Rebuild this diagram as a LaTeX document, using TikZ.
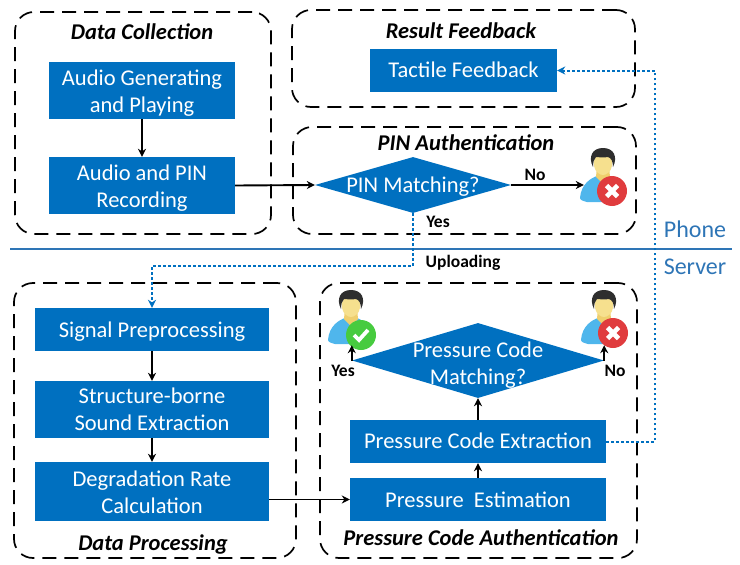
\documentclass[tikz,border=0pt]{standalone}
\usepackage{fontspec}
\setmainfont{Carlito}
\usetikzlibrary{shapes.geometric,arrows.meta,calc}
\definecolor{boxblue}{HTML}{0070C0}
\definecolor{rulecol}{HTML}{2E75B6}
\definecolor{skinA}{HTML}{F6E08E}
\definecolor{skinB}{HTML}{EFCF6E}
\definecolor{shirt}{HTML}{4FB6EC}
\definecolor{badred}{HTML}{E03C3E}
\definecolor{badgreen}{HTML}{47CB3F}
\newcommand{\lowertext}[1]{\rule{0pt}{#1}}
\tikzset{
  x=1pt,y=-1pt,
  group/.style={draw=black,line width=1.7pt,dash pattern=on 14pt off 8pt,rounded corners=19pt},
  title/.style={font=\fontsize{22.5}{26}\selectfont\bfseries\itshape,text=black,inner sep=0pt},
  proc/.style={fill=boxblue,text=white,inner sep=0pt,align=center,font=\fontsize{22.5}{27}\selectfont},
  textdown/.style={execute at begin node={\rule{0pt}{#1}}},
  textup/.style={execute at begin node={\rule[-#1]{0pt}{#1}}},
  dec/.style={diamond,fill=boxblue,inner sep=0pt,aspect=1},
  dectext/.style={text=white,align=center,inner sep=0pt,font=\fontsize{22.5}{27}\selectfont},
  flow/.style={draw=black,line width=1.9pt,-{Stealth[length=8pt,width=8pt]}},
  link/.style={draw=boxblue,line width=2pt,dash pattern=on 2.6pt off 2.4pt,-{Stealth[length=8pt,width=8pt]}},
  tag/.style={font=\fontsize{17.5}{20}\selectfont\bfseries,text=black,inner sep=0pt},
  side/.style={font=\fontsize{24}{28}\selectfont,text=rulecol,inner sep=0pt},
  anchorbox/.style={inner sep=0pt,minimum width=44pt,minimum height=50pt},
  pics/person/.style={code={
    \fill[shirt] (-23,38) .. controls (-22,24) and (-12,18) .. (-6,16) -- (6,16) .. controls (12,18) and (20,24) .. (21,38) -- (12,42) -- (-16,42) .. controls (-20,41) and (-23,40) .. (-23,38) -- cycle;
    \fill[skinB] (-6,6) -- (6,6) -- (7,17) -- (0,24) -- (-7,17) -- cycle;
    \fill[skinA] (0,-6) .. controls (9,-6) and (10,2) .. (9,6) .. controls (8,12) and (3,15) .. (0,15) .. controls (-3,15) and (-8,12) .. (-9,6) .. controls (-10,2) and (-9,-6) .. (0,-6) -- cycle;
    \fill[black!82] (-10,7) .. controls (-15,-3) and (-11,-12) .. (0,-12) .. controls (11,-12) and (15,-3) .. (10,7) .. controls (10,1) and (8,-2) .. (5,-3) .. controls (0,-2) and (-5,-3) .. (-7,-3) .. controls (-9,-1) and (-10,2) .. (-10,7) -- cycle;
    #1
  }},
}
\newcommand{\badgecross}{%
  \fill[badred] (9,31) circle (15);
  \draw[white,line width=4.6pt] (3.5,25.5) -- (14.5,36.5) (14.5,25.5) -- (3.5,36.5);}
\newcommand{\badgecheck}{%
  \fill[badgreen] (10,33) circle (15);
  \draw[white,line width=3.8pt] (3,33) -- (8,38) -- (17,28);}
\begin{document}
\begin{tikzpicture}
\useasboundingbox (0,0) rectangle (740,565);
% groups
\node[group,minimum width=256pt,minimum height=222pt] (gdc) at (143,123) {};
\node[group,minimum width=343pt,minimum height=97pt] (grf) at (463.5,58.5) {};
\node[group,minimum width=343pt,minimum height=107pt] (gpa) at (464.5,180.5) {};
\node[group,minimum width=282pt,minimum height=275pt] (gdp) at (155,420.5) {};
\node[group,minimum width=317pt,minimum height=275pt] (gpc) at (478.5,420.5) {};
% titles
\node[title] (tdc) at (142,32) {Data Collection};
\node[title] (trf) at (461,31) {Result Feedback};
\node[title] (tpa) at (466,143) {PIN Authentication};
\node[title] (tdp) at (153,544) {Data Processing};
\node[title] (tpc) at (481,538) {Pressure Code Authentication};
% process boxes
\node[proc,minimum width=186pt,minimum height=57pt] (ag) at (142,90.5) {\lowertext{20pt}Audio Generating\\and Playing};
\node[proc,minimum width=186pt,minimum height=57pt] (ar) at (142,185.5) {\lowertext{20pt}Audio and PIN\\Recording};
\node[proc,textup=2pt,minimum width=187pt,minimum height=43pt] (tf) at (463.5,70.5) {Tactile Feedback};
\node[proc,textdown=20pt,minimum width=234pt,minimum height=43pt] (sp) at (152,329.5) {Signal Preprocessing};
\node[proc,minimum width=234pt,minimum height=57pt] (se) at (152,409.5) {Structure-borne\\Sound Extraction};
\node[proc,minimum width=234pt,minimum height=59pt] (dr) at (152,491.5) {\lowertext{18pt}Degradation Rate\\Calculation};
\node[proc,textup=2pt,minimum width=256pt,minimum height=43pt] (pe) at (478,441.5) {Pressure Code Extraction};
\node[proc,minimum width=256pt,minimum height=43pt] (pq) at (478,499.5) {Pressure\ \ Estimation};
% decisions
\node[dec,minimum width=196pt,minimum height=56pt,label={[dectext,yshift=-2pt]center:PIN Matching?}] (d1) at (413,185) {};
\node[dec,minimum width=252pt,minimum height=75pt,label={[dectext,yshift=-5pt]center:Pressure Code\\Matching?}] (d2) at (478,360.5) {};
% person icons
\node[anchorbox] (u1) at (606,178) {};
\node[anchorbox] (u2) at (351,320) {};
\node[anchorbox] (u3) at (605,320) {};
\pic at (603,160) {person={\badgecross}};
\pic at (351,302) {person={\badgecheck}};
\pic at (604,302) {person={\badgecross}};
% divider
\coordinate (divL) at (10,249);
\coordinate (divR) at (732,249);
\draw[rulecol,line width=1.4pt] (divL) -- (divR);
\node[side] (phone) at (695,229) {Phone};
\node[side] (server) at (695,267) {Server};
% solid connectors
\draw[flow] (ag) -- (ar);
\draw[flow] (ar.east) -- (d1.west);
\draw[flow] (d1.east) -- (d1.east -| u1.west);
\draw[flow] (sp) -- (se);
\draw[flow] (se) -- (dr);
\draw[flow] (dr.east |- pq.west) -- (pq.west);
\draw[flow] (pq) -- (pe);
\draw[flow] (pe) -- (d2);
\draw[flow] (d2.west) -- (d2.west |- u2.south);
\draw[flow] (d2.east) -- (d2.east |- u3.south);
% dotted connectors
\coordinate (upA) at (413,266);
\coordinate (upB) at (152,266);
\draw[link] (d1.south) -- (upA) -- (upB) -- (sp.north);
\coordinate (fbA) at (655,441.5);
\coordinate (fbB) at (655,70.5);
\draw[link] (pe.east) -- (fbA) -- (fbB) -- (tf.east);
% labels
\node[tag] (lno1) at (535,175) {No};
\node[tag] (lyes1) at (438,222) {Yes};
\node[tag] (lup) at (463,263) {Uploading};
\node[tag] (lyes2) at (343,371) {Yes};
\node[tag] (lno2) at (615,371) {No};
\end{tikzpicture}
\end{document}
